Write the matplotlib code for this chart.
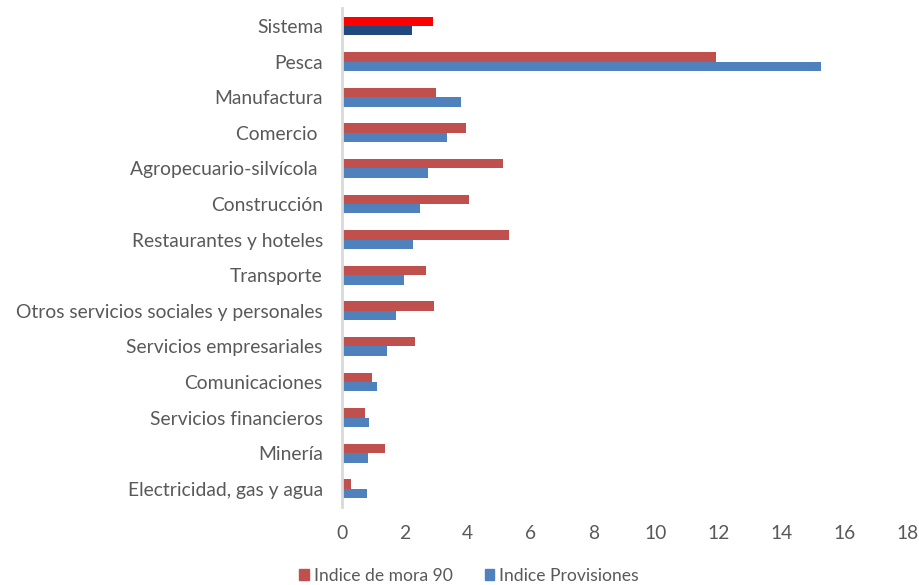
import matplotlib
matplotlib.use("Agg")
import matplotlib.pyplot as plt
import numpy as np

plt.rcParams["font.family"] = ["Lato", "DejaVu Sans"]

sectores = [
    "Sistema",
    "Pesca",
    "Manufactura",
    "Comercio ",
    "Agropecuario-silvícola ",
    "Construcción",
    "Restaurantes y hoteles",
    "Transporte",
    "Otros servicios sociales y personales",
    "Servicios empresariales",
    "Comunicaciones",
    "Servicios financieros",
    "Minería",
    "Electricidad, gas y agua",
]
mora_90 = [2.89, 11.91, 2.98, 3.93, 5.13, 4.03, 5.32, 2.68, 2.92, 2.33, 0.96, 0.71, 1.35, 0.27]
provisiones = [2.22, 15.25, 3.77, 3.35, 2.72, 2.47, 2.27, 1.96, 1.71, 1.43, 1.12, 0.86, 0.83, 0.79]
ticks_x = [0, 2, 4, 6, 8, 10, 12, 14, 16, 18]

rojo, azul = "#C0504D", "#4F81BD"
texto = "#595959"

# Sistema row gets stronger colours than the sectors
col_mora = ["#FF0000"] + [rojo] * (len(sectores) - 1)
col_prov = ["#1F497D"] + [azul] * (len(sectores) - 1)

fig = plt.figure(figsize=(9.2, 5.85), dpi=100)
ax = fig.add_axes([0.372, 0.134, 0.614, 0.852])

y = np.arange(len(sectores))
h = 0.264
ax.barh(y - h / 2, mora_90, height=h, color=col_mora, edgecolor="none", label="Indice de mora 90")
ax.barh(y + h / 2, provisiones, height=h, color=col_prov, edgecolor="none", label="Indice Provisiones")

ax.set_ylim(len(sectores) - 0.5, -0.5)
ax.set_xlim(0, 18)
ax.set_yticks(y)
ax.set_yticklabels(sectores, fontsize=13.9, color=texto)
ax.set_xticks(ticks_x)
ax.set_xticklabels([str(t) for t in ticks_x], fontsize=13.9, color=texto)
ax.tick_params(axis="both", length=0)
ax.tick_params(axis="y", pad=14)
ax.tick_params(axis="x", pad=13)

for s in ["top", "right", "bottom"]:
    ax.spines[s].set_visible(False)
ax.spines["left"].set_color("#D9D9D9")
ax.spines["left"].set_linewidth(2)

labels = ax.get_legend_handles_labels()[1]
handles = [plt.Rectangle((0, 0), 1, 1, color=c) for c in (rojo, azul)]
fig.legend(handles, labels, loc="center", bbox_to_anchor=(0.51, 0.016), ncol=2,
           frameon=False, fontsize=12.6, handlelength=0.55, handleheight=0.55,
           handletextpad=0.3, columnspacing=1.8, labelcolor=texto)

fig.savefig("out.png", dpi=100)
